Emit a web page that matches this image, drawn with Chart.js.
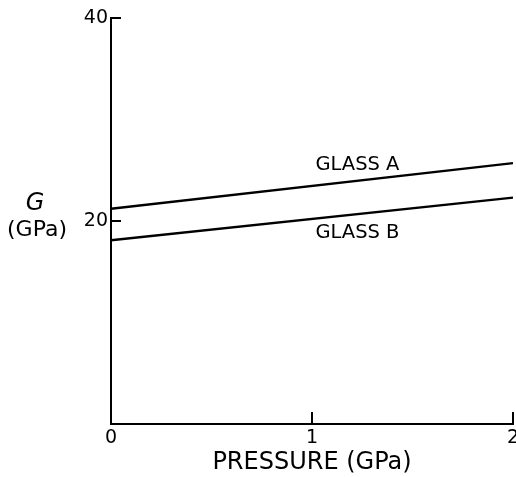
<!DOCTYPE html>
<html>
<head>
<meta charset="utf-8">
<script src="https://cdn.jsdelivr.net/npm/chart.js@4/dist/chart.umd.min.js"></script>
<style>
  html, body { margin: 0; padding: 0; background: #fff; }
  #wrap { width: 516px; height: 477px; }
</style>
</head>
<body>
<div id="wrap"><canvas id="chart" width="516" height="477"></canvas></div>
<script>
// data
const pressure = [0, 2];          // GPa
const glassA = [21.2, 25.7];      // G (GPa)
const glassB = [18.1, 22.3];
const xTicks = [0, 1, 2];
const yTicks = [20, 40];

const FONT = "'DejaVu Sans', sans-serif";

// curve labels: centre x and text baseline, in data units
const curveLabels = [
  { text: 'GLASS A', x: 1.226, y: 25.0 },
  { text: 'GLASS B', x: 1.226, y: 18.3 }
];

// inward tick marks, y title and curve labels
const extras = {
  id: 'extras',
  afterDraw(chart) {
    const ctx = chart.ctx;
    const xs = chart.scales.x;
    const ys = chart.scales.y;
    const area = chart.chartArea;
    ctx.save();
    ctx.strokeStyle = '#000';
    ctx.lineWidth = 2;
    ctx.beginPath();
    yTicks.forEach(v => {
      const py = ys.getPixelForValue(v);
      ctx.moveTo(area.left, py);
      ctx.lineTo(area.left + 10, py);
    });
    xTicks.forEach(v => {
      if (v === 0) return;
      const px = xs.getPixelForValue(v);
      ctx.moveTo(px, area.bottom);
      ctx.lineTo(px, area.bottom - 12);
    });
    ctx.stroke();

    ctx.fillStyle = '#000';
    ctx.textAlign = 'center';
    ctx.textBaseline = 'alphabetic';
    ctx.font = '19.5px ' + FONT;
    curveLabels.forEach(l => {
      ctx.fillText(l.text, xs.getPixelForValue(l.x), ys.getPixelForValue(l.y));
    });

    // y axis title, horizontal, two lines beside the 20 tick
    const y20 = ys.getPixelForValue(20);
    ctx.font = 'italic 24px ' + FONT;
    ctx.fillText('G', area.left - 76, y20 - 11);
    ctx.font = '22px ' + FONT;
    ctx.fillText('(GPa)', area.left - 74, y20 + 15);
    ctx.restore();
  }
};

new Chart(document.getElementById('chart'), {
  type: 'line',
  data: {
    datasets: [
      {
        label: 'GLASS A',
        data: pressure.map((p, i) => ({ x: p, y: glassA[i] })),
        borderColor: '#000',
        borderWidth: 2.4,
        pointRadius: 0
      },
      {
        label: 'GLASS B',
        data: pressure.map((p, i) => ({ x: p, y: glassB[i] })),
        borderColor: '#000',
        borderWidth: 2.4,
        pointRadius: 0
      }
    ]
  },
  options: {
    responsive: false,
    animation: false,
    layout: { padding: { left: 71, right: 3, top: 18, bottom: 0 } },
    plugins: {
      legend: { display: false },
      tooltip: { enabled: false }
    },
    scales: {
      x: {
        type: 'linear',
        min: 0,
        max: 2,
        afterBuildTicks: s => { s.ticks = xTicks.map(v => ({ value: v })); },
        afterFit: s => { s.height = 53; s.paddingLeft = 0; s.paddingRight = 0; },
        grid: { display: false, drawTicks: false },
        border: { display: true, color: '#000', width: 2 },
        ticks: { color: '#000', padding: 3, font: { family: FONT, size: 19 } },
        title: {
          display: true,
          text: 'PRESSURE (GPa)',
          color: '#000',
          padding: { top: 0, bottom: 0 },
          font: { family: FONT, size: 24 }
        }
      },
      y: {
        type: 'linear',
        min: 0,
        max: 40,
        afterBuildTicks: s => { s.ticks = yTicks.map(v => ({ value: v })); },
        afterFit: s => { s.width = 40; s.paddingTop = 0; s.paddingBottom = 0; },
        grid: { display: false, drawTicks: false },
        border: { display: true, color: '#000', width: 2 },
        ticks: { color: '#000', padding: 3, font: { family: FONT, size: 19 } }
      }
    }
  },
  plugins: [extras]
});
</script>
</body>
</html>
